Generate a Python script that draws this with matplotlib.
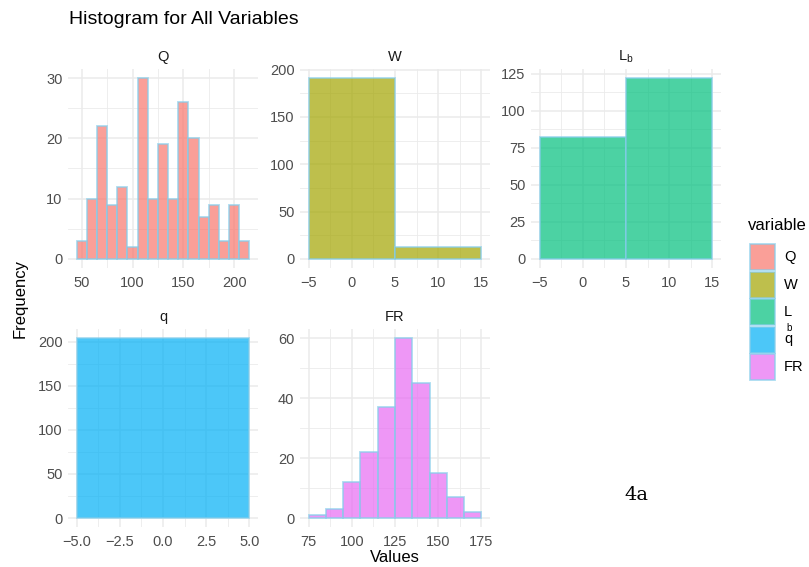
import numpy as np
import matplotlib
matplotlib.use("Agg")
import matplotlib.pyplot as plt
from matplotlib.patches import Rectangle

plt.rcParams['font.family'] = ['Liberation Sans', 'DejaVu Sans']

# histogram data (bin edges + counts)
q_edges = np.arange(45, 216, 10)
q_counts = [3, 10, 22, 9, 12, 2, 30, 10, 19, 10, 26, 20, 7, 9, 3, 9, 3]
w_edges = [-5, 5, 15]
w_counts = [191, 13]
lb_edges = [-5, 5, 15]
lb_counts = [82, 122]
qs_edges = [-5, 5]
qs_counts = [204]
fr_edges = np.arange(75, 176, 10)
fr_counts = [1, 3, 12, 22, 37, 60, 45, 15, 7, 2]

names = ["Q", "W", "L_b", "q", "FR"]
strip_labels = ["Q", "W", r"$\mathregular{L_b}$", "q", "FR"]
colors = ["#F8766D", "#A3A500", "#00BF7D", "#00B0F6", "#E76BF3"]

x_ticks = [[50, 100, 150, 200], [-5, 0, 5, 10, 15], [-5, 0, 5, 10, 15],
           [-5, -2.5, 0, 2.5, 5], [75, 100, 125, 150, 175]]
x_ticklabels = [["50", "100", "150", "200"],
                ["\u22125", "0", "5", "10", "15"],
                ["\u22125", "0", "5", "10", "15"],
                ["\u22125.0", "\u22122.5", "0.0", "2.5", "5.0"],
                ["75", "100", "125", "150", "175"]]
y_ticks = [[0, 10, 20, 30], [0, 50, 100, 150, 200], [0, 25, 50, 75, 100, 125],
           [0, 50, 100, 150, 200], [0, 20, 40, 60]]

data = [(q_edges, q_counts), (w_edges, w_counts), (lb_edges, lb_counts),
        (qs_edges, qs_counts), (fr_edges, fr_counts)]

W, H = 809, 567
fig = plt.figure(figsize=(W / 100, H / 100), dpi=100)

# panel boxes in pixels: left, top, right, bottom
boxes = [(68, 69, 258, 268), (300, 69, 490, 268), (531, 69, 721, 268),
         (68, 329, 258, 527), (300, 329, 490, 527)]

edge_col = "#87CEEB"
grid_col = "#EBEBEB"

def minors(ticks):
    t = np.array(ticks, dtype=float)
    return list((t[:-1] + t[1:]) / 2)

for i, (edges, counts) in enumerate(data):
    l, t, r, b = boxes[i]
    ax = fig.add_axes([l / W, 1 - b / H, (r - l) / W, (b - t) / H])
    edges = np.asarray(edges, dtype=float)
    ax.bar(edges[:-1], counts, width=np.diff(edges), align="edge",
           color=colors[i], alpha=0.7, edgecolor=edge_col, linewidth=1.3, zorder=3)
    span = edges[-1] - edges[0]
    ax.set_xlim(edges[0] - 0.05 * span, edges[-1] + 0.05 * span)
    ymax = max(counts)
    ax.set_ylim(-0.05 * ymax, 1.05 * ymax)
    ax.set_xticks(x_ticks[i])
    ax.set_xticklabels(x_ticklabels[i])
    ax.set_yticks(y_ticks[i])
    ax.set_xticks(minors(x_ticks[i]), minor=True)
    ax.set_yticks(minors(y_ticks[i]), minor=True)
    ax.grid(which="major", color=grid_col, linewidth=1.1, zorder=0)
    ax.grid(which="minor", color=grid_col, linewidth=0.6, zorder=0)
    ax.set_axisbelow(True)
    for s in ax.spines.values():
        s.set_visible(False)
    ax.tick_params(which="both", length=0, labelsize=10.5, labelcolor="#4D4D4D")
    ax.tick_params(axis="x", pad=6)
    ax.tick_params(axis="y", pad=4)
    ax.set_title(strip_labels[i], fontsize=10.5, color="#1A1A1A", pad=6)

fig.text(69 / W, 1 - 20 / H, "Histogram for All Variables", fontsize=14,
         ha="left", va="center", color="black")
fig.text(20 / W, 1 - 298 / H, "Frequency", fontsize=12, rotation=90,
         ha="center", va="center")
fig.text(395 / W, 1 - 557 / H, "Values", fontsize=12, ha="center", va="center")

# legend drawn by hand (ggplot-style keys)
fig.text(748 / W, 1 - 226 / H, "variable", fontsize=12, ha="left", va="center")
key_tops = [244, 271.5, 299, 326.5, 354]
for i, kt in enumerate(key_tops):
    fig.patches.append(Rectangle((750 / W, 1 - (kt + 26) / H), 25 / W, 26 / H,
                                 transform=fig.transFigure, facecolor=colors[i],
                                 alpha=0.7, edgecolor=edge_col, linewidth=1.3))
legend_labels = ["Q", "W", "L", "q", "FR"]
for i, kt in enumerate(key_tops):
    fig.text(784 / W, 1 - (kt + 13) / H, legend_labels[i], fontsize=10.5,
             ha="left", va="center")
fig.text(786 / W, 1 - 328 / H, "b", fontsize=7, ha="left", va="center")

fig.text(636 / W, 1 - 495 / H, "4a", fontsize=14, family="DejaVu Serif",
         ha="center", va="center")

fig.savefig("out.png", dpi=100)
